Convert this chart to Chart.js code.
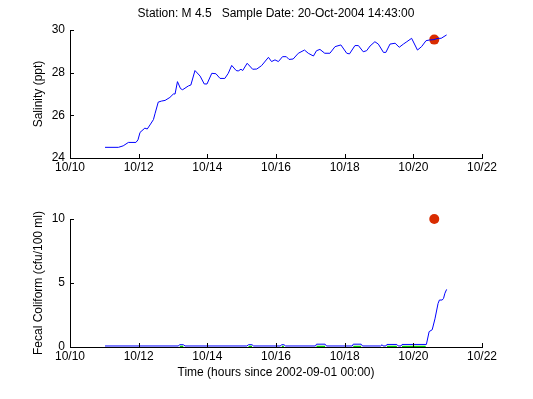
<!DOCTYPE html>
<html><head><meta charset="utf-8">
<script src="https://cdn.jsdelivr.net/npm/chart.js@4"></script>
<style>
html,body{margin:0;padding:0;background:#fff;}
#wrap{position:relative;width:533px;height:399px;overflow:hidden;}
canvas{position:absolute;left:0;}
</style></head>
<body><div id="wrap">
<canvas id="c1" width="533" height="190" style="top:0;width:533px;height:190px"></canvas>
<canvas id="c2" width="533" height="210" style="top:189px;width:533px;height:210px"></canvas>
</div>
<script>
// ---- data (x = day of October 2004) ----
const titleText = "Station: M 4.5   Sample Date: 20-Oct-2004 14:43:00";
const xTicks = [10, 12, 14, 16, 18, 20, 22];
const salTicks = [24, 26, 28, 30];
const fecTicks = [0, 5, 10];

const salTime = [11.02,11.41,11.55,11.70,11.92,11.98,12.04,12.18,12.25,12.33,12.43,12.48,12.57,12.67,12.77,12.91,13.01,13.06,13.13,13.22,13.28,13.45,13.52,13.64,13.79,13.91,13.99,14.13,14.25,14.37,14.51,14.61,14.71,14.84,14.90,14.98,15.03,15.16,15.32,15.44,15.58,15.78,15.87,15.97,16.07,16.19,16.30,16.38,16.50,16.65,16.83,16.94,17.09,17.18,17.28,17.42,17.57,17.72,17.89,18.06,18.14,18.30,18.40,18.54,18.64,18.74,18.88,18.98,19.13,19.20,19.32,19.47,19.59,19.71,19.81,19.95,20.12,20.24,20.37,20.47,20.60,20.72,20.81,20.97];
const salValue = [24.50,24.50,24.57,24.73,24.73,24.85,25.20,25.40,25.36,25.55,25.80,26.10,26.62,26.67,26.70,26.84,27.00,27.00,27.58,27.25,27.20,27.38,27.42,28.10,27.84,27.47,27.47,27.97,27.95,27.73,27.73,27.97,28.34,28.10,28.08,28.16,28.10,28.44,28.16,28.17,28.33,28.72,28.52,28.60,28.52,28.75,28.75,28.62,28.64,28.91,29.06,28.91,28.78,29.03,29.09,28.91,28.91,29.22,29.30,28.91,28.88,29.27,29.27,28.98,29.03,29.25,29.45,29.34,28.95,28.95,29.34,29.38,29.19,29.34,29.45,29.61,29.06,29.22,29.50,29.53,29.55,29.61,29.61,29.77];

const fecTime = [11.02,13.15,13.20,13.30,13.35,15.15,15.20,15.30,15.35,16.12,16.17,16.23,16.28,17.15,17.18,17.43,17.47,18.22,18.25,18.48,18.52,19.05,19.09,19.12,19.20,19.23,19.52,19.56,19.64,19.67,20.38,20.46,20.55,20.63,20.72,20.76,20.84,20.88,20.92,20.97];
const fecValue = [0.08,0.08,0.18,0.18,0.08,0.08,0.18,0.18,0.08,0.08,0.18,0.18,0.08,0.08,0.22,0.22,0.08,0.08,0.22,0.22,0.08,0.08,0.18,0.08,0.08,0.20,0.20,0.08,0.08,0.20,0.20,1.20,1.35,2.20,3.40,3.67,3.67,3.80,4.20,4.50];

const fecLowTime = [13.20,13.30,13.31,15.20,15.30,15.31,16.17,16.23,16.24,17.18,17.43,17.44,18.25,18.48,18.49,19.23,19.52,19.53,19.67,20.36];
const fecLowValue = [0.04,0.04,null,0.04,0.04,null,0.04,0.04,null,0.04,0.04,null,0.04,0.04,null,0.04,0.04,null,0.04,0.04];

const sampleTime = [20.61];
const sampleSal = [29.55];
const sampleFec = [10];

// ---- helpers ----
const FAMILY = "'Liberation Sans', Arial, Helvetica, sans-serif";
const FONT = {family: FAMILY, size: 12};
const zip = (xs, ys) => xs.map((x, i) => ({x: x, y: ys[i]}));

const inwardTicks = {
  id: 'inwardTicks',
  afterDraw(chart) {
    const ctx = chart.ctx, a = chart.chartArea;
    const xs = chart.scales.x, ys = chart.scales.y;
    ctx.save();
    ctx.strokeStyle = '#000';
    ctx.lineWidth = 1;
    ctx.beginPath();
    xs.ticks.forEach(t => {
      const p = Math.round(xs.getPixelForValue(t.value)) + 0.5;
      ctx.moveTo(p, a.bottom); ctx.lineTo(p, a.bottom - 4);
    });
    ys.ticks.forEach(t => {
      const p = Math.round(ys.getPixelForValue(t.value)) + 0.5;
      ctx.moveTo(a.left, p); ctx.lineTo(a.left + 4, p);
    });
    ctx.stroke();
    ctx.restore();
  }
};

const centerTitle = {
  id: 'centerTitle',
  afterDraw(chart, args, opts) {
    if (!opts.text) return;
    const ctx = chart.ctx, a = chart.chartArea;
    ctx.save();
    ctx.fillStyle = '#000';
    ctx.font = FONT.size + 'px ' + FAMILY;
    ctx.textAlign = 'center';
    ctx.textBaseline = 'middle';
    ctx.fillText(opts.text, (a.left + a.right) / 2, opts.y);
    ctx.restore();
  }
};

function xScale(height, withTitle) {
  return {
    type: 'linear', min: 10, max: 22,
    afterBuildTicks: s => { s.ticks = xTicks.map(v => ({value: v})); },
    afterFit: s => { s.height = height; },
    grid: {display: false, drawTicks: false, tickLength: 0},
    border: {display: true, color: '#000', width: 1},
    ticks: {color: '#000', font: FONT, padding: 2, maxRotation: 0, autoSkip: false,
            callback: v => '10/' + v},
    title: withTitle ? {display: true, text: 'Time (hours since 2002-09-01 00:00)', color: '#000',
            font: FONT, padding: {top: 0, bottom: 19}} : {display: false}
  };
}
function yScale(min, max, tickVals, label) {
  return {
    type: 'linear', min: min, max: max,
    afterBuildTicks: s => { s.ticks = tickVals.map(v => ({value: v})); },
    afterFit: s => { s.width = 70; },
    grid: {display: false, drawTicks: false, tickLength: 0},
    border: {display: true, color: '#000', width: 1},
    ticks: {color: '#000', font: FONT, padding: 5, autoSkip: false},
    title: {display: true, text: label, color: '#000', font: FONT, padding: {top: 31, bottom: 0}}
  };
}

Chart.defaults.font.family = FAMILY;

new Chart(document.getElementById('c1'), {
  type: 'line',
  data: {datasets: [
    {data: zip(salTime, salValue), borderColor: '#0000ff', borderWidth: 1, pointRadius: 0, tension: 0, fill: false},
    {data: zip(sampleTime, sampleSal), showLine: false, clip: false, pointRadius: 5, pointBackgroundColor: '#d92c00', pointBorderColor: '#d92c00', pointBorderWidth: 0}
  ]},
  options: {
    responsive: false, animation: false,
    layout: {padding: {left: 0, right: 51, top: 30, bottom: 0}},
    plugins: {
      legend: {display: false}, tooltip: {enabled: false}, title: {display: false},
      centerTitle: {text: titleText, y: 14}
    },
    scales: {x: xScale(32, false), y: yScale(24, 30, salTicks, 'Salinity (ppt)')}
  },
  plugins: [inwardTicks, centerTitle]
});

new Chart(document.getElementById('c2'), {
  type: 'line',
  data: {datasets: [
    {data: zip(fecLowTime, fecLowValue), borderColor: '#00cc00', borderWidth: 1.5, pointRadius: 0, tension: 0, fill: false, spanGaps: false},
    {data: zip(fecTime, fecValue), borderColor: '#0000ff', borderWidth: 1, pointRadius: 0, tension: 0, fill: false},
    {data: zip(sampleTime, sampleFec), showLine: false, clip: false, pointRadius: 5, pointBackgroundColor: '#d92c00', pointBorderColor: '#d92c00', pointBorderWidth: 0}
  ]},
  options: {
    responsive: false, animation: false,
    layout: {padding: {left: 0, right: 51, top: 30, bottom: 0}},
    plugins: {legend: {display: false}, tooltip: {enabled: false}, title: {display: false}, centerTitle: {text: ''}},
    scales: {x: xScale(52, true), y: yScale(0, 10, fecTicks, 'Fecal Coliform (cfu/100 ml)')}
  },
  plugins: [inwardTicks, centerTitle]
});
</script>
</body></html>
